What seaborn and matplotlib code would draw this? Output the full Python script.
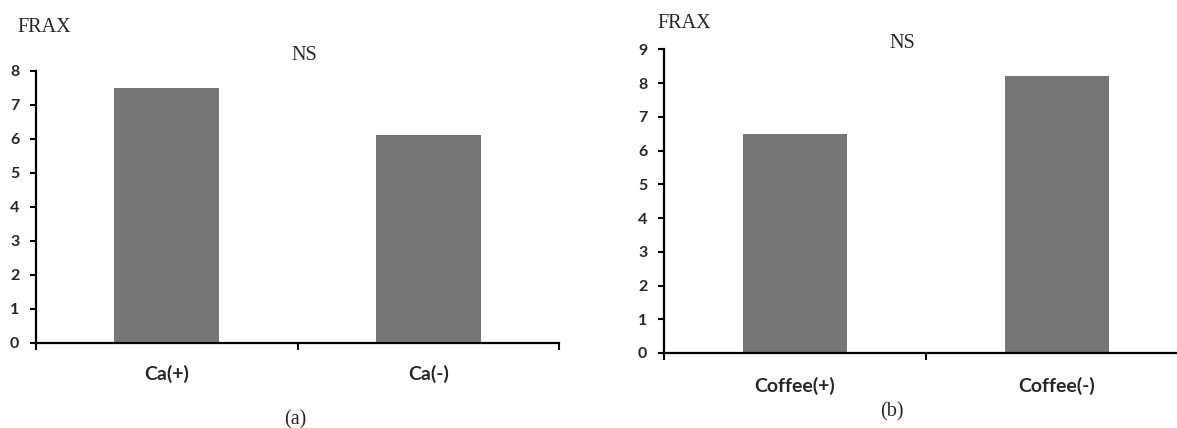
import matplotlib
matplotlib.use("Agg")
import matplotlib.pyplot as plt
import seaborn as sns
import pandas as pd

ca_categories = ["Ca(+)", "Ca(-)"]
ca_values = [7.5, 6.1]
coffee_categories = ["Coffee(+)", "Coffee(-)"]
coffee_values = [6.5, 8.2]
ca_yticks = [0, 1, 2, 3, 4, 5, 6, 7, 8]
coffee_yticks = [0, 1, 2, 3, 4, 5, 6, 7, 8, 9]

sns.set_theme(style="white")
plt.rcParams['font.family'] = ['Lato', 'DejaVu Sans']

W, H = 1177, 428
fig = plt.figure(figsize=(W / 100, H / 100), dpi=100)

def px_axes(x0, x1, ytop, ybot):
    return fig.add_axes([x0 / W, 1 - ybot / H, (x1 - x0) / W, (ybot - ytop) / H])

bar_color = "#767676"
serif = ['Liberation Serif', 'DejaVu Serif']

def draw(ax, cats, vals, yticks, ymax, label_pad):
    df = pd.DataFrame({"cat": cats, "val": vals})
    sns.barplot(data=df, x="cat", y="val", color=bar_color, width=0.4,
                saturation=1, ax=ax, edgecolor="none")
    ax.set_xlim(-0.5, 1.5)
    ax.set_ylim(0, ymax)
    ax.set_yticks(yticks)
    ax.set_yticklabels([str(t) for t in yticks], fontsize=11.5, fontweight="bold")
    ax.set_xticks([-0.5, 0.5, 1.5], minor=True)
    ax.tick_params(axis="x", which="minor", length=5, width=1.5, direction="out",
                   color="black", bottom=True)
    ax.tick_params(axis="x", which="major", length=0, pad=label_pad)
    ax.set_xticklabels(cats, fontsize=14, fontweight="bold")
    ax.tick_params(axis="y", length=4, width=1.5, direction="out", color="black",
                   left=True, pad=8)
    for s in ["top", "right"]:
        ax.spines[s].set_visible(False)
    for s in ["left", "bottom"]:
        ax.spines[s].set_color("black")
        ax.spines[s].set_linewidth(1.6)
    ax.set_xlabel("")
    ax.set_ylabel("")

ax1 = px_axes(36, 559, 70.7, 343)
draw(ax1, ca_categories, ca_values, ca_yticks, 8, 16)
ax2 = px_axes(664, 1188, 49.3, 353)
draw(ax2, coffee_categories, coffee_values, coffee_yticks, 9, 17)

fs = 14.5
fig.text(17 / W, 1 - 28 / H, "FRAX", family=serif, fontsize=fs, va="center", ha="left")
fig.text(304 / W, 1 - 55 / H, "NS", family=serif, fontsize=fs, va="center", ha="center")
fig.text(295 / W, 1 - 420 / H, "(a)", family=serif, fontsize=fs, va="center", ha="center")
fig.text(657 / W, 1 - 23 / H, "FRAX", family=serif, fontsize=fs, va="center", ha="left")
fig.text(902 / W, 1 - 43 / H, "NS", family=serif, fontsize=fs, va="center", ha="center")
fig.text(892 / W, 1 - 412 / H, "(b)", family=serif, fontsize=fs, va="center", ha="center")

fig.savefig("out.png", dpi=100, facecolor="white")
